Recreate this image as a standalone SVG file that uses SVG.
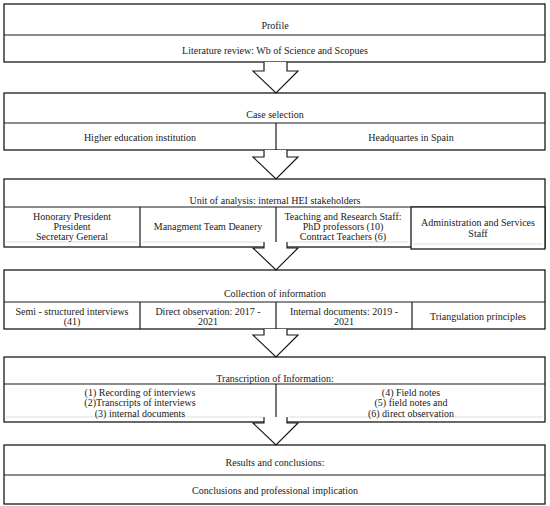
<svg xmlns="http://www.w3.org/2000/svg" width="550" height="506" viewBox="0 0 550 506">
<style>
  .box{fill:#fff;stroke:#1a1a1a;stroke-width:1.3}
  .ln{stroke:#1a1a1a;stroke-width:1.2;fill:none}
  .faint{stroke:#d4d4d4;stroke-width:0.8}
  .arrow{fill:#fff;stroke:#1a1a1a;stroke-width:1.2;stroke-linejoin:miter}
  text{font-family:"Liberation Serif","Times New Roman",serif;font-size:10px;fill:#1a1a1a;text-anchor:middle}
</style>
<rect width="550" height="506" fill="#fff"/>

<g id="profile">
  <rect class="box" x="4" y="4" width="541" height="58"/>
  <line class="ln" x1="4" y1="35" x2="545" y2="35"/>
  <text x="275" y="28.5">Profile</text>
  <text x="275" y="53.5">Literature review: Wb of Science and Scopues</text>
</g>

<g id="case-selection">
  <rect class="box" x="4" y="93" width="541" height="57"/>
  <line class="ln" x1="4" y1="123" x2="545" y2="123"/>
  <line class="ln" x1="276" y1="123" x2="276" y2="150"/>
  <text x="275" y="117.5">Case selection</text>
  <text x="140" y="140.5">Higher education institution</text>
  <text x="411" y="140.5">Headquartes in Spain</text>
</g>

<g id="unit-of-analysis">
  <rect class="box" x="4" y="179" width="541" height="68"/>
  <line class="ln" x1="4" y1="207" x2="545" y2="207"/>
  <line class="ln" x1="140" y1="207" x2="140" y2="247"/>
  <line class="ln" x1="276" y1="207" x2="276" y2="247"/>
  <rect class="box" x="411" y="207" width="134" height="42"/>
  <line class="faint" x1="6" y1="242" x2="137" y2="242"/>
  <line class="faint" x1="143" y1="242" x2="263" y2="242"/>
  <line class="faint" x1="289" y1="242" x2="408" y2="242"/>
  <line class="faint" x1="414" y1="244" x2="543" y2="244"/>
  <text x="275" y="204">Unit of analysis: internal HEI stakeholders</text>
  <text x="72" y="219.5">Honorary President</text>
  <text x="72" y="229.5">President</text>
  <text x="72" y="239.5">Secretary General</text>
  <text x="208" y="230">Managment Team Deanery</text>
  <text x="343" y="219.5">Teaching and Research Staff:</text>
  <text x="343" y="229.5">PhD professors (10)</text>
  <text x="343" y="239.5">Contract Teachers (6)</text>
  <text x="478" y="225.5">Administration and Services</text>
  <text x="478" y="236.5">Staff</text>
</g>

<g id="collection">
  <rect class="box" x="4" y="270" width="541" height="59"/>
  <line class="ln" x1="4" y1="302" x2="545" y2="302"/>
  <line class="ln" x1="140" y1="302" x2="140" y2="329"/>
  <line class="ln" x1="276" y1="302" x2="276" y2="329"/>
  <line class="ln" x1="412" y1="302" x2="412" y2="329"/>
  <text x="275" y="296.5">Collection of information</text>
  <text x="72" y="314.5">Semi - structured interviews</text>
  <text x="72" y="324.5">(41)</text>
  <text x="208" y="314.5">Direct observation: 2017 -</text>
  <text x="208" y="324.5">2021</text>
  <text x="344" y="314.5">Internal documents: 2019 -</text>
  <text x="344" y="324.5">2021</text>
  <text x="478" y="319.5">Triangulation principles</text>
</g>

<g id="transcription">
  <rect class="box" x="4" y="357" width="541" height="65"/>
  <line class="ln" x1="4" y1="384" x2="545" y2="384"/>
  <line class="ln" x1="276" y1="384" x2="276" y2="422"/>
  <line class="faint" x1="6" y1="417" x2="263" y2="417"/>
  <line class="faint" x1="289" y1="417" x2="543" y2="417"/>
  <text x="275" y="382">Transcription of Information:</text>
  <text x="140" y="395.5">(1) Recording of interviews</text>
  <text x="140" y="406">(2)Transcripts of interviews</text>
  <text x="140" y="416.5">(3) internal documents</text>
  <text x="411" y="395.5">(4) Field notes</text>
  <text x="411" y="406">(5) field notes and</text>
  <text x="411" y="416.5">(6) direct observation</text>
</g>

<g id="results">
  <rect class="box" x="4" y="445" width="541" height="59"/>
  <line class="ln" x1="4" y1="475" x2="545" y2="475"/>
  <text x="275" y="465.5">Results and conclusions:</text>
  <text x="275" y="493.5">Conclusions and professional implication</text>
</g>

<g id="connectors">
  <path class="arrow" d="M264,62 V71 H253 L276,93 L298,71 H287 V62"/>
  <path class="arrow" d="M264,150 V157 H253 L276,179 L298,157 H287 V150"/>
  <path class="arrow" d="M264,242 V248 H253 L276,270 L298,248 H287 V242"/>
  <path class="arrow" d="M264,329 V335 H253 L276,357 L298,335 H287 V329"/>
  <path class="arrow" d="M264,417 V423 H253 L276,445 L298,423 H287 V417"/>
</g>
</svg>
